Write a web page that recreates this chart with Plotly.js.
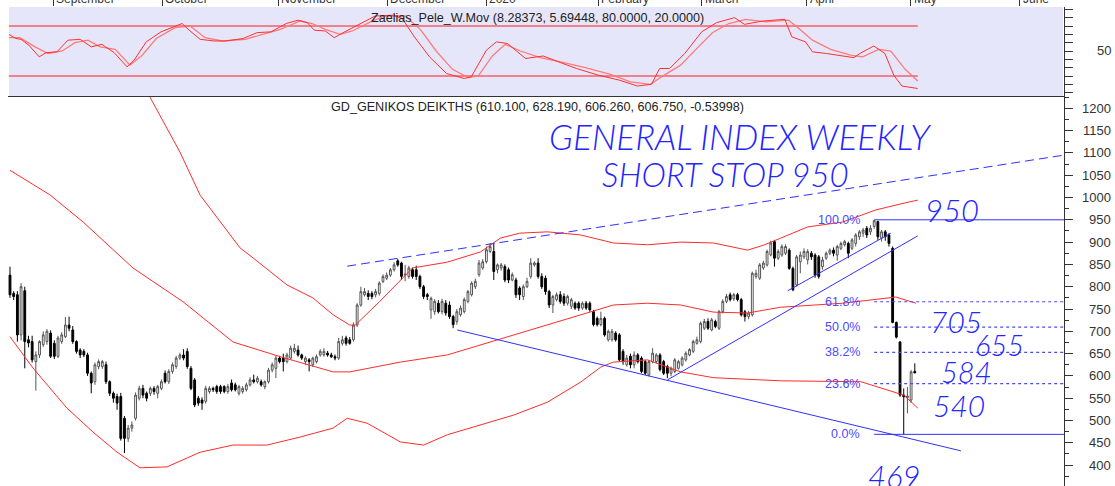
<!DOCTYPE html>
<html><head><meta charset="utf-8">
<script src="https://cdn.plot.ly/plotly-3.0.1.min.js"></script>
<style>html,body{margin:0;padding:0;background:#fff;}#chart{width:1115px;height:486px;}</style>
</head><body><div id="chart"></div>
<script>
// ---- weekly candles ----
const openP = [826,785,782,692,791,681,677,632,647,670,677,696,673,644,677,688,714,703,677,658,655,647,606,587,621,621,625,587,561,554,554,505,460,483,505,550,572,561,561,572,561,572,606,587,610,621,640,647,655,617,591,550,546,543,565,572,576,576,576,565,584,580,561,565,569,580,591,587,587,576,587,613,617,640,640,632,640,655,658,647,632,636,625,632,647,647,651,647,643,640,673,685,681,681,714,759,782,785,785,782,785,812,819,826,838,858,
853,826,823,838,838,823,800,782,748,744,763,744,763,759,733,722,737,744,767,782,800,827,842,856,879,879,838,842,845,838,815,815,797,778,800,823,849,853,823,819,789,759,771,782,778,763,756,763,763,752,763,763,744,729,715,729,681,681,696,692,655,625,644,625,647,640,632,602,632,632,647,632,621,606,610,617,625,636,647,655,673,677,707,722,703,722,707,744,767,782,773,782,771,744,733,737,823,819,842,849,871,901,864,871,
875,882,841,804,856,867,860,875,871,867,845,864,875,882,871,886,894,897,886,897,912,920,931,923,935,946,909,923,916,886,720,676,557,551,546,610.1];
const highP = [845,790,790,808,800,690,690,655,680,700,705,702,680,690,698,732,733,712,680,662,660,652,610,630,637,636,632,590,565,560,562,510,490,498,563,578,580,565,576,577,580,592,612,615,630,645,652,660,662,622,595,555,552,578,577,576,580,580,579,582,592,585,580,577,585,597,603,600,592,590,618,630,645,645,650,652,668,672,668,650,644,640,643,648,660,662,656,652,648,685,690,690,687,720,763,800,797,792,790,795,812,828,832,842,855,862,
856,849,847,843,847,827,804,786,778,772,770,773,770,767,737,750,758,776,793,812,818,860,862,890,898,898,852,853,850,843,832,820,801,805,820,864,857,864,830,825,793,782,787,790,785,782,775,767,767,767,768,767,748,733,744,733,704,705,700,696,660,647,650,655,651,644,636,636,662,651,651,636,625,621,640,636,644,655,662,681,688,722,728,729,730,726,748,772,784,787,786,786,775,748,746,834,838,853,858,883,903,905,884,895,
895,886,845,871,879,886,884,880,875,871,867,879,886,888,894,901,905,901,909,920,927,932,936,938,950,948,927,927,920,890,722,678,572,575,613,628.19];
const lowP = [775,770,677,680,617,664,630,567,640,665,670,640,638,640,672,685,700,672,650,640,642,600,561,580,615,616,582,555,540,524,455,427,452,475,500,545,550,543,555,558,550,568,583,582,605,616,636,635,616,568,530,533,524,538,560,564,560,560,561,560,565,565,556,560,565,576,583,583,576,570,583,608,595,628,610,628,636,650,643,636,625,610,620,628,643,643,643,640,635,636,668,668,670,677,710,755,778,770,772,776,780,808,815,822,834,845,
815,812,818,818,815,795,772,770,728,737,740,738,735,728,707,715,733,740,763,778,795,822,838,852,875,815,830,836,810,808,812,775,770,770,797,818,845,818,795,782,752,741,767,762,757,758,750,748,746,748,748,744,711,711,711,688,677,677,677,632,625,621,617,617,628,606,602,599,628,628,610,602,595,599,606,614,621,632,644,651,670,673,703,703,700,707,703,740,763,767,768,767,733,722,727,733,818,815,838,845,868,845,860,867,
871,838,790,800,830,862,850,860,820,818,838,860,871,868,858,882,890,864,882,890,905,912,909,916,930,905,901,903,890,718,684,553,469,516,540,606.26];
const closeP = [782,778,692,800,677,674,636,647,677,692,700,644,644,685,692,714,707,677,655,647,647,606,584,625,632,632,587,561,550,539,460,460,483,490,557,572,557,550,572,565,576,587,587,610,625,640,647,640,621,572,535,539,539,572,572,569,565,565,565,576,569,569,576,572,580,591,587,595,580,587,613,625,640,632,632,647,662,662,647,640,640,632,640,643,655,655,647,643,640,677,681,673,673,714,759,789,789,778,778,789,808,823,826,838,849,849,
823,828,842,823,823,800,778,778,774,767,744,767,741,733,715,744,752,771,789,808,812,853,856,883,890,834,849,849,815,815,827,782,782,800,812,853,853,823,800,789,759,778,782,767,763,778,771,752,752,763,752,748,715,715,729,692,700,700,681,636,632,640,625,647,632,610,606,632,651,647,614,606,606,617,636,632,640,651,659,677,681,718,722,707,726,711,744,767,778,771,782,771,737,733,741,830,830,849,853,879,898,864,879,890,
890,841,793,867,871,879,879,867,826,823,860,875,882,875,890,897,901,875,905,916,923,927,916,931,948,912,923,912,897,720,687,557,553,555,609,606.75];

// ---- moving-average bands (bar index, value) ----
const upperBandX = [37.9,42,46,51.5,55,62.3,65.9,75,82,87.5,92,93.5,100,109,118.4,127.4,132.8,138,145.5,154.5,163.4,172.6,181.6,190.5,199.7,204,208.7,216,225.5,234.4,243.4,245.8];
const upperBandY = [1225,1163,1102,1005,967,887,864,804,775,737,714,714,766,842,855,878,909,920,923,916,898,894,900,898,882,893,909,934,945,972,990,994];
const midBandX = [0,10.8,19.8,33.3,46.9,60.4,74,87.5,92,105.7,118.4,136.3,154.5,163.4,172.6,181.6,190.5,199.7,208.7,225.5,238,239.8,245.3];
const midBandY = [1061,1006,945,842,766,676,641,609,609,631,647,692,737,759,763,759,743,741,754,763,775,777,763];
const lowBandX = [0,6.2,15.4,22.5,29,35.2,42.5,51.5,60.4,69.6,78.6,87.5,91.3,96.7,105.7,112,118.4,127.4,136.3,145.5,154.5,160,163.4,172.6,181.6,190.5,199.7,208.7,230.4,239.8,242,245.8];
const lowBandY = [688,618,528,474,429,394,396,429,445,445,463,483,505,494,452,445,468,490,512,541,586,620,631,636,609,596,593,589,587,564,557,528];

// ---- oscillator (Zaelias_Pele_W.Mov) ----
const oscFastX = [-0.3,1.6,3,5.1,7.9,9.8,12.7,15.7,19,22,24.9,28.2,31.7,33.6,36.9,40.9,46.6,48.5,51.5,55.3,58.3,63.1,66.9,70.7,74.8,78,80.5,82.4,85.4,87.8,90.2,94,98.9,103.8,106.2,109.5,113.6,118.2,123,124.9,129,131.7,134.7,139.6,144.4,149.1,153.4,159.3,165,169.9,173.7,175.9,178.6,182.7,187.3,191.3,196.2,198.9,203.8,209.8,211.7,215.4,217.3,221.1,225.2,228.5,230.1,233.9,236.9,239.3,241.5,245.8];
const oscFastY = [70,65,64,57,43,48,49,63,64,55,58,48,31,39,61,73,83,75,64,62,62,65,72,73,83,87,84,75,74,66,72,81,92,93,89,67,43,23,17,19,51,61,59,41,44,36,29,21,15,8,10,29,29,47,73,84,90,82,86,88,67,61,49,47,44,42,47,56,47,21,8,5];
const oscSlowX = [-0.3,2.7,6.8,10.3,14.1,17.6,21.1,24.4,28.5,32.5,35.8,39.6,44.7,48.8,52.8,57.5,63.7,68.3,73.2,78.6,81.8,85.4,89.4,92.7,97.6,101.6,107,111.1,115.4,119.8,124.1,126.8,130.6,134.1,138.2,143.6,149.1,155.8,162.6,168,173.4,177.5,181.6,186.4,190.2,194.6,199.2,204.6,210.8,213.6,217.3,222.2,227.6,230.9,235.2,238.5,242.4,245.8];
const oscSlowY = [66,66,55,47,50,60,63,55,52,33,45,65,78,80,66,62,64,70,76,86,83,76,70,74,85,92,92,76,50,28,18,20,44,58,50,42,37,30,22,13,10,22,33,55,72,83,88,85,87,77,63,52,45,43,52,50,28,14];
const oscLevels = [80, 20];

// ---- trend lines drawn on the chart (bar index, value) ----
const trendUpperX = [91.3, 285.4], trendUpperY = [846, 1095];
const trendLowerX = [121.1, 257.5], trendLowerY = [703, 432];
const trendRiseX = [178, 245.8], trendRiseY = [591, 914];
const trendRise2X = [210.6, 238.5], trendRise2Y = [791, 920];

// ---- Fibonacci retracement ----
const fibLevels = [950, 766.3, 709.5, 652.7, 582.5, 469];
const fibLabels = ['100.0%', '61.8%', '50.0%', '38.2%', '23.6%', '0.0%'];

// ---- axis labels ----
const priceTicks = [350,400,450,500,550,600,650,700,750,800,850,900,950,1000,1050,1100,1150,1200];
const oscTicks = [0,10,20,30,40,50,60,70,80,90,100];
const oscLabelTicks = [50];
const monthLabels = ['September','October','November','December','2020','February','March','April','May','June'];
const monthPos = [11.65,41.2,72.6,102.2,129.0,159.3,187.3,215.7,243.9,273.4];

const W = 1115, H = 486;
const px = v => v / W, py = v => 1 - v / H;
const xRange = [-0.54, 285.4];
const barIdx = closeP.map((_, i) => i);
const peakIdx = highP.indexOf(Math.max(...highP));

const RED = '#ff2b2b', BLUE = '#3030ff', AX = '#333333';
const FONT = 'Liberation Sans, Arial, sans-serif';

const traces = [];
const bandLine = (x, y) => ({type:'scatter', mode:'lines', x, y, xaxis:'x', yaxis:'y', line:{color:RED, width:1}, hoverinfo:'skip'});
traces.push(bandLine(upperBandX, upperBandY));
traces.push(bandLine(midBandX, midBandY));
traces.push(bandLine(lowBandX, lowBandY));
traces.push({type:'candlestick', x: barIdx, open: openP, high: highP, low: lowP, close: closeP,
  xaxis:'x', yaxis:'y', whiskerwidth:0,
  increasing:{line:{color:'#555555', width:1}, fillcolor:'#ffffff'},
  decreasing:{line:{color:'#000000', width:1}, fillcolor:'#000000'}, hoverinfo:'skip'});
const trendLine = (x, y, dash) => ({type:'scatter', mode:'lines', x, y, xaxis:'x', yaxis:'y', line:{color:BLUE, width:1, dash: dash || 'solid'}, hoverinfo:'skip'});
traces.push(trendLine(trendUpperX, trendUpperY, '9px,5px'));
traces.push(trendLine(trendLowerX, trendLowerY));
traces.push(trendLine(trendRiseX, trendRiseY));
traces.push(trendLine(trendRise2X, trendRise2Y));

// oscillator panel
oscLevels.forEach(lv => traces.push({type:'scatter', mode:'lines', x:[oscFastX[0], oscFastX[oscFastX.length-1]], y:[lv, lv], xaxis:'x2', yaxis:'y2', line:{color:'#ff1a1a', width:1.2}, hoverinfo:'skip'}));
traces.push({type:'scatter', mode:'lines', x: oscSlowX, y: oscSlowY, xaxis:'x2', yaxis:'y2', line:{color:'#ff7a7a', width:1.3}, hoverinfo:'skip'});
traces.push({type:'scatter', mode:'lines', x: oscFastX, y: oscFastY, xaxis:'x2', yaxis:'y2', line:{color:'#ff3030', width:1}, hoverinfo:'skip'});

const shapes = [
  {type:'rect', xref:'paper', yref:'paper', x0:px(9), x1:px(1063), y0:py(96), y1:py(7), fillcolor:'#e6e6fa', line:{width:0}, layer:'below'}
];
fibLevels.forEach((lv, i) => {
  const solid = (i === 0 || i === fibLevels.length - 1);
  shapes.push({type:'line', xref:'x', yref:'y', x0: peakIdx, x1: xRange[1], y0: lv, y1: lv,
    line:{color: solid ? BLUE : '#4a4aff', width: solid ? 1 : 1.2, dash: solid ? 'solid' : 'dot'}});
});

const annotations = [];
priceTicks.forEach(v => annotations.push({xref:'paper', yref:'y', x: px(1113), y: v, text: String(v), showarrow:false, xanchor:'right', yanchor:'middle', font:{family:FONT, size:13, color:AX}}));
oscLabelTicks.forEach(v => annotations.push({xref:'paper', yref:'y2', x: px(1113), y: v, text: String(v), showarrow:false, xanchor:'right', yanchor:'middle', font:{family:FONT, size:13, color:AX}}));
monthLabels.forEach((m, i) => annotations.push({xref:'x2', yref:'paper', x: monthPos[i], y: py(8), text: m, showarrow:false, xanchor:'left', yanchor:'bottom', xshift:1, font:{family:FONT, size:12, color:AX}}));
fibLabels.forEach((t, i) => annotations.push({xref:'x', yref:'y', x: peakIdx, y: fibLevels[i], text: t, showarrow:false, xanchor:'right', yanchor:'middle', xshift:-12, font:{family:FONT, size:12.5, color:'#4a4aff'}}));
annotations.push({xref:'paper', yref:'paper', x: px(537), y: py(107), text:'GD_GENIKOS DEIKTHS (610.100, 628.190, 606.260, 606.750, -0.53998)', showarrow:false, xanchor:'center', yanchor:'middle', font:{family:FONT, size:12.6, color:'#222'}});
annotations.push({xref:'paper', yref:'paper', x: px(537), y: py(18), text:'Zaelias_Pele_W.Mov (8.28373, 5.69448, 80.0000, 20.0000)', showarrow:false, xanchor:'center', yanchor:'middle', font:{family:FONT, size:12.6, color:'#222'}});
const HAND = {family:'Lato, sans-serif', color:'#2424ff', style:'italic', weight:300};
const note = (text, x, y, size) => annotations.push({xref:'paper', yref:'paper', x: px(x), y: py(y), text, showarrow:false, xanchor:'center', yanchor:'middle', borderpad:0, font:Object.assign({size}, HAND)});
note('GENERAL INDEX WEEKLY', 740, 136, 35);
note('SHORT STOP 950', 725, 174, 33);
note('950', 952, 210, 31);
note('705', 956, 321, 30);
note('655', 999, 344, 29);
note('584', 966, 371, 29);
note('540', 959, 405, 30);
note('469', 894, 476, 31);

const layout = {
  width: W, height: H, margin:{l:0, r:0, t:0, b:0}, paper_bgcolor:'#ffffff', plot_bgcolor:'rgba(0,0,0,0)',
  showlegend:false, hovermode:false,
  xaxis:{domain:[px(8), px(1064)], range:xRange, anchor:'y', side:'top', showline:true, linecolor:AX, linewidth:1,
    showgrid:false, zeroline:false, showticklabels:false, ticks:'', rangeslider:{visible:false}, fixedrange:true},
  yaxis:{domain:[0, py(97)], range:[353.2, 1225.3], anchor:'x', side:'right', showline:true, linecolor:AX, linewidth:1,
    showgrid:false, zeroline:false, showticklabels:false, ticks:'outside', ticklen:8, tickcolor:AX, tickvals: priceTicks,
    minor:{dtick:25, tick0:0, ticks:'outside', ticklen:4, tickcolor:AX, showgrid:false}},
  xaxis2:{domain:[px(8), px(1064)], range:xRange, anchor:'y2', side:'top', showline:false, showgrid:false, zeroline:false,
    showticklabels:false, ticks:'outside', ticklen:7, tickcolor:AX, tickvals: monthPos, rangeslider:{visible:false}},
  yaxis2:{domain:[py(96), py(7)], range:[-4, 102.8], anchor:'x2', side:'right', showline:true, linecolor:AX, linewidth:1,
    showgrid:false, zeroline:false, showticklabels:false, ticks:'outside', ticklen:8, tickcolor:AX, tickvals: oscTicks},
  shapes, annotations
};
Plotly.newPlot('chart', traces, layout, {staticPlot:true, displayModeBar:false});
</script></body></html>
